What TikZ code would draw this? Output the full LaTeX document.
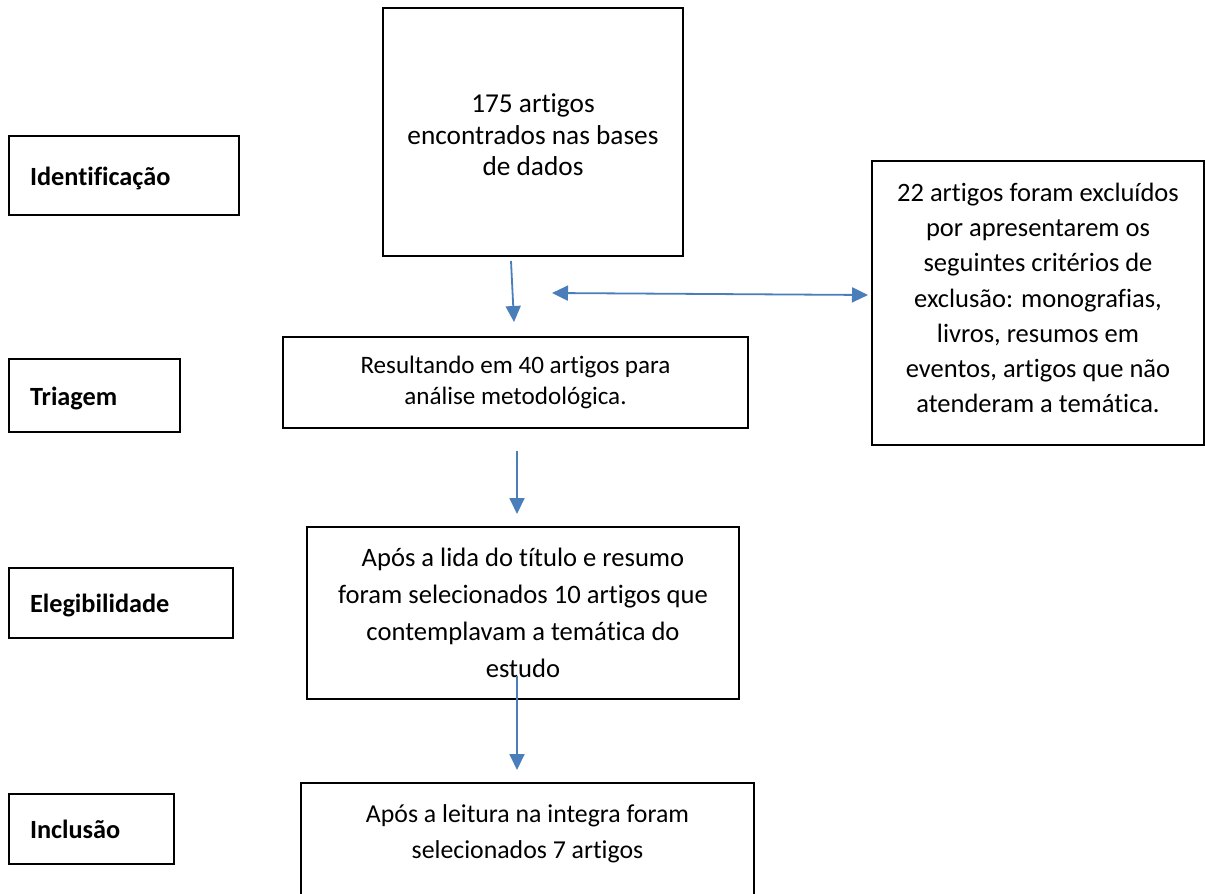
\documentclass[tikz,border=0pt]{standalone}
\usepackage{fontspec}
\setmainfont{Carlito}[Ligatures=NoCommon]
\usetikzlibrary{arrows.meta}
\definecolor{arrowblue}{HTML}{4A7EBB}
\begin{document}
\begin{tikzpicture}[x=1pt,y=-1pt,
  every node/.style={font=\fontsize{26.3}{32}\selectfont},
  boxnode/.style={draw=black, line width=2pt, inner sep=0pt, align=center},
  textnode/.style={inner sep=0pt, align=center},
  stagebox/.style={draw=black, line width=2pt, inner xsep=21pt, inner ysep=0pt, text height=24pt, text depth=5pt, font=\fontsize{26.3}{32}\selectfont\bfseries},
  flowarrow/.style={draw=arrowblue, line width=1.8pt, -{Triangle[length=16pt,width=15pt]}},
  bothflow/.style={draw=arrowblue, line width=1.8pt, {Triangle[length=16pt,width=15pt]}-{Triangle[length=16pt,width=15pt]}}
]
\useasboundingbox (0,0) rectangle (1205,894);
\fill[white] (0,0) rectangle (1205,894);

% stage labels
\node[stagebox, minimum width=230pt, minimum height=79pt] (id) at (124,175.5) {\makebox[188pt][l]{Identificação}};
\node[stagebox, minimum width=171pt, minimum height=73pt] (tri) at (94.5,395.5) {\makebox[129pt][l]{Triagem}};
\node[stagebox, minimum width=224pt, minimum height=70pt] (ele) at (121,603) {\makebox[182pt][l]{Elegibilidade}};
\node[stagebox, minimum width=165pt, minimum height=70pt] (inc) at (91.5,829) {\makebox[123pt][l]{Inclusão}};

% flow boxes
\node[boxnode, minimum width=300pt, minimum height=248pt] (topbox) at (533,132) {};
\node[textnode, font=\fontsize{27.3}{31.5}\selectfont] (top) at (533,135)
  {175 artigos\\encontrados nas bases\\de dados};
\node[boxnode, minimum width=465pt, minimum height=91pt, font=\fontsize{25.1}{31}\selectfont] (res) at (515.5,382.5)
  {Resultando em 40 artigos para\\análise metodológica.};
\node[boxnode, minimum width=332pt, minimum height=284pt] (excbox) at (1038,303) {};
\node[textnode, font=\fontsize{26.5}{35.2}\selectfont] (exc) at (1038,298)
  {22 artigos foram excluídos\\por apresentarem os\\seguintes critérios de\\exclusão: monografias,\\livros, resumos em\\eventos, artigos que não\\atenderam a temática.};
\node[boxnode, minimum width=432pt, minimum height=172pt, font=\fontsize{26.6}{37}\selectfont] (apos) at (523,613)
  {Após a lida do título e resumo\\foram selecionados 10 artigos que\\contemplavam a temática do\\estudo};
\node[boxnode, minimum width=453pt, minimum height=117pt] (finbox) at (527.5,841.5) {};
\node[textnode, font=\fontsize{25.8}{36}\selectfont] (fin) at (527.5,834)
  {Após a leitura na integra foram\\selecionados 7 artigos};

% connector end points
\coordinate (a1s) at (511,261);
\coordinate (a1e) at (514,322);
\coordinate (d1) at (552,293);
\coordinate (d2) at (868,295);
\coordinate (a2s) at (517,451);
\coordinate (a2e) at (517,514);
\coordinate (a3s) at (517,676);
\coordinate (a3e) at (517,770);

\draw[flowarrow] (a1s) -- (a1e);
\draw[bothflow] (d1) -- (d2);
\draw[flowarrow] (a2s) -- (a2e);
\draw[flowarrow] (a3s) -- (a3e);
\end{tikzpicture}
\end{document}
